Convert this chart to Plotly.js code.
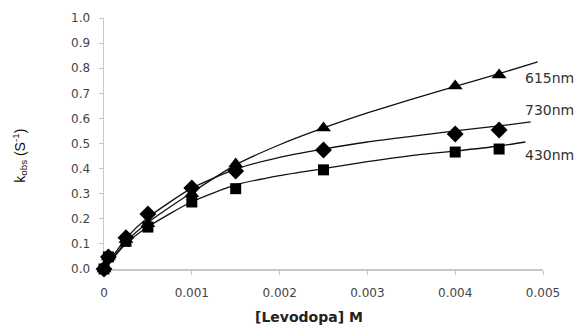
<!DOCTYPE html>
<html>
<head>
<meta charset="utf-8">
<script src="https://cdn.plot.ly/plotly-3.0.1.min.js"></script>
<style>html,body{margin:0;padding:0;background:#fff;}#chart{width:584px;height:326px;}</style>
</head>
<body>
<div id="chart"></div>
<script>
// Measured points
const conc = [0, 0.00005, 0.00025, 0.0005, 0.001, 0.0015, 0.0025, 0.004, 0.0045];
const k430 = [0, 0.048, 0.110, 0.167, 0.267, 0.320, 0.395, 0.466, 0.478];
const k730 = [0, 0.048, 0.125, 0.219, 0.323, 0.390, 0.474, 0.538, 0.554];
const k615 = [0, 0.048, 0.118, 0.180, 0.300, 0.418, 0.562, 0.729, 0.773];

// Fitted curves
const fitX430 = [0, 0.00025, 0.0005, 0.001, 0.0015, 0.002, 0.0025, 0.003, 0.0035, 0.004, 0.0045, 0.0048];
const fitY430 = [0, 0.100, 0.168, 0.268, 0.335, 0.372, 0.400, 0.428, 0.452, 0.470, 0.490, 0.506];
const fitX730 = [0, 0.00025, 0.0005, 0.001, 0.0015, 0.002, 0.0025, 0.003, 0.0035, 0.004, 0.0045, 0.00486];
const fitY730 = [0, 0.122, 0.205, 0.322, 0.398, 0.445, 0.478, 0.506, 0.528, 0.550, 0.570, 0.586];
const fitX615 = [0, 0.00025, 0.0005, 0.001, 0.0015, 0.002, 0.0025, 0.003, 0.0035, 0.004, 0.0045, 0.00494];
const fitY615 = [0, 0.108, 0.185, 0.305, 0.415, 0.495, 0.562, 0.622, 0.676, 0.728, 0.778, 0.825];

const seriesLabels = ["615nm", "730nm", "430nm"];
const labelY = [0.761, 0.633, 0.454];
const labelX = 0.00477;

const xTickVals = [0, 0.001, 0.002, 0.003, 0.004, 0.005];
const xTickText = ["0", "0.001", "0.002", "0.003", "0.004", "0.005"];
const yTickVals = [0, 0.1, 0.2, 0.3, 0.4, 0.5, 0.6, 0.7, 0.8, 0.9, 1.0];
const yTickText = ["0.0", "0.1", "0.2", "0.3", "0.4", "0.5", "0.6", "0.7", "0.8", "0.9", "1.0"];

const lineStyle = {color: "#111", width: 1.3, shape: "spline", smoothing: 0.6};
const traces = [
  {x: fitX430, y: fitY430, mode: "lines", line: lineStyle, hoverinfo: "skip"},
  {x: fitX730, y: fitY730, mode: "lines", line: lineStyle, hoverinfo: "skip"},
  {x: fitX615, y: fitY615, mode: "lines", line: lineStyle, hoverinfo: "skip"},
  {x: conc, y: k430, mode: "markers", marker: {symbol: "square", size: 11, color: "#000"}, cliponaxis: false},
  {x: conc, y: k730, mode: "markers", marker: {symbol: "diamond", size: 13, color: "#000"}, cliponaxis: false},
  {x: conc, y: k615, mode: "markers", marker: {symbol: "triangle-up", size: 13, color: "#000"}, cliponaxis: false}
];

const labelAnnots = seriesLabels.map((t, i) => ({
  x: labelX, y: labelY[i], xref: "x", yref: "y", text: t, showarrow: false,
  xanchor: "left", yanchor: "middle", font: {family: "DejaVu Sans", size: 14, color: "#333"}
}));

const layout = {
  width: 584, height: 326,
  margin: {l: 104, r: 41, t: 18, b: 57},
  showlegend: false,
  paper_bgcolor: "#fff", plot_bgcolor: "#fff",
  xaxis: {
    range: [0, 0.005], tickvals: xTickVals, ticktext: xTickText,
    showgrid: false, zeroline: false, showline: true, linecolor: "#c8c8c8", linewidth: 1.5,
    ticks: "outside", ticklen: 4, tickcolor: "#c8c8c8", ticklabelstandoff: 8,
    tickfont: {family: "DejaVu Sans", size: 12, color: "#444"}, layer: "below traces"
  },
  yaxis: {
    range: [0, 1.0], tickvals: yTickVals, ticktext: yTickText,
    showgrid: false, zeroline: false, showline: true, linecolor: "#c8c8c8", linewidth: 1.5,
    ticks: "outside", ticklen: 4, tickcolor: "#c8c8c8", ticklabelstandoff: 6,
    tickfont: {family: "DejaVu Sans", size: 12, color: "#444"}, layer: "below traces"
  },
  annotations: [
    ...labelAnnots,
    {x: -0.192, y: 0.45, xref: "paper", yref: "paper", xanchor: "center", yanchor: "middle",
     text: "k<sub>obs</sub> (S<sup>-1</sup>)", textangle: -90, showarrow: false,
     font: {family: "Liberation Sans", size: 14, color: "#111"}},
    {x: 0.467, y: -0.19, xref: "paper", yref: "paper", xanchor: "center", yanchor: "middle",
     text: "<b>[Levodopa] M</b>", showarrow: false,
     font: {family: "DejaVu Sans", size: 14, color: "#222"}}
  ]
};

Plotly.newPlot("chart", traces, layout, {displayModeBar: false, staticPlot: true});
</script>
</body>
</html>
